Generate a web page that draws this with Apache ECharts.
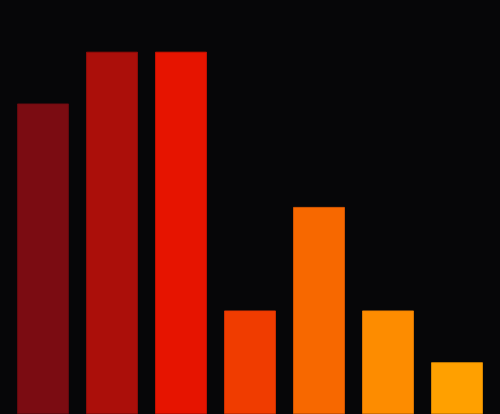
<!DOCTYPE html>
<html>
<head>
<meta charset="utf-8">
<script src="https://cdn.jsdelivr.net/npm/echarts@6/dist/echarts.min.js"></script>
<style>
html,body{margin:0;padding:0;background:#060608;}
#c{width:500px;height:414px;}
</style>
</head>
<body>
<div id="c"></div>
<script>
const categories = ['A','B','C','D','E','F','G'];
const values = [6, 7, 7, 2, 4, 2, 1];
const colors = ['#7b0c12','#ab0f0a','#e61400','#f03c00','#f76800','#fd8c00','#ffa000'];
const borders = ['#6e0a10','#9c0d09','#d81200','#e23500','#ea6000','#f08200','#f09400'];

const chart = echarts.init(document.getElementById('c'));
chart.setOption({
  backgroundColor: '#060608',
  animation: false,
  grid: {left: 8.5, right: 8.5, top: 0, bottom: 0},
  xAxis: {type: 'category', data: categories, show: false},
  yAxis: {type: 'value', min: 0, max: 8, show: false},
  series: [{
    type: 'bar',
    barCategoryGap: '25%',
    data: values.map((v, i) => ({
      value: v,
      itemStyle: {color: colors[i], borderColor: borders[i], borderWidth: 0.8}
    }))
  }]
});
</script>
</body>
</html>
